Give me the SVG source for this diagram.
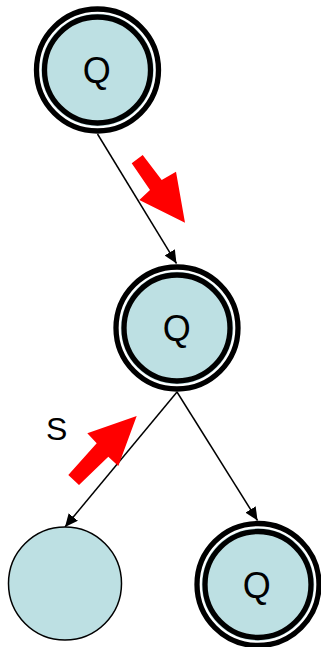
<svg xmlns="http://www.w3.org/2000/svg" width="321" height="647" viewBox="0 0 321 647">
<style>
.ring{fill:#fff;stroke:#000;stroke-width:5.3}
.fill{fill:#bde0e3}
.inner{fill:none;stroke:#000;stroke-width:5.3}
.plain{fill:#bde0e3;stroke:#000;stroke-width:1.5}
.lbl{font-family:"Liberation Sans",Arial,sans-serif;font-size:36px;fill:#000;text-anchor:middle}
.edge{stroke:#000;stroke-width:1.5;fill:none;marker-end:url(#ah)}
.red{fill:#ff0000}
</style>
<defs>
<marker id="ah" markerUnits="userSpaceOnUse" markerWidth="14" markerHeight="12" refX="13" refY="6" orient="auto">
<path d="M0,0 L13,6 L0,12 Z" fill="#000"/>
</marker>
</defs>
<g id="connectors">
<line class="edge" x1="97.5" y1="134" x2="176.5" y2="263.5"/>
<line class="edge" x1="177" y1="392" x2="65" y2="527"/>
<line class="edge" x1="177" y1="392" x2="257.5" y2="520.5"/>
</g>
<g id="node-top">
<circle class="ring" cx="97.5" cy="70" r="61"/>
<circle class="fill" cx="97.5" cy="70" r="56.3"/>
<circle class="inner" cx="97.5" cy="70" r="53"/>
<text class="lbl" x="96.7" y="83">Q</text>
</g>
<g id="node-mid">
<circle class="ring" cx="177" cy="328" r="61"/>
<circle class="fill" cx="177" cy="328" r="56.3"/>
<circle class="inner" cx="177" cy="328" r="53"/>
<text class="lbl" x="176.7" y="341">Q</text>
</g>
<g id="node-left">
<circle class="plain" cx="65" cy="583.5" r="56.5"/>
</g>
<g id="node-right">
<circle class="ring" cx="258" cy="584.5" r="61"/>
<circle class="fill" cx="258" cy="584.5" r="56.3"/>
<circle class="inner" cx="258" cy="584.5" r="53"/>
<text class="lbl" x="256.7" y="597.5">Q</text>
</g>
<g id="red-arrows">
<polygon class="red" points="131.7,163.3 142.7,155 161.7,180 176,171.7 185,222.7 139.3,200 150,190"/>
<polygon class="red" points="68.3,475 96.7,443.3 87.3,433.3 136.7,416 118.3,466 108.3,456.7 79,485"/>
</g>
<text class="lbl" x="56.7" y="440" style="font-size:32px">S</text>
</svg>
